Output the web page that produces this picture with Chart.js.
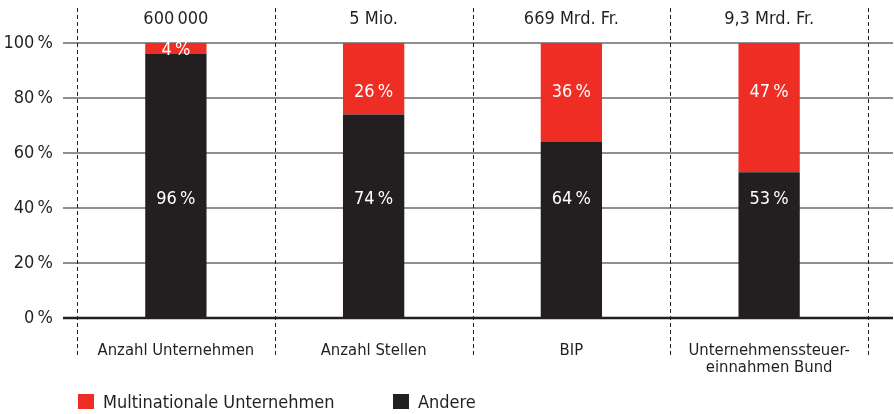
<!DOCTYPE html>
<html lang="de">
<head>
<meta charset="utf-8">
<script src="https://cdn.jsdelivr.net/npm/chart.js@4.4.1/dist/chart.umd.min.js"></script>
<style>
  html, body { margin: 0; padding: 0; background: #fff; }
  #wrap { position: relative; width: 894px; height: 414px; }
  .leg { position: absolute; top: 391px; height: 20px; display: flex; align-items: center;
         font: 18px 'DejaVu Sans Condensed', 'DejaVu Sans', sans-serif; color: #231F20; white-space: nowrap; }
  .leg i { display: inline-block; width: 16px; height: 15px; margin-right: 9px; }
</style>
</head>
<body>
<div id="wrap">
  <canvas id="chart" width="894" height="414"></canvas>
  <div class="leg" style="left:78px"><i style="background:#EE2E24"></i>Multinationale Unternehmen</div>
  <div class="leg" style="left:393px"><i style="background:#231F20"></i>Andere</div>
</div>
<script>
// Daten
const categories = ['Anzahl Unternehmen', 'Anzahl Stellen', 'BIP', ['Unternehmenssteuer-', 'einnahmen Bund']];
const totals = ['600\u2009000', '5 Mio.', '669 Mrd. Fr.', '9,3 Mrd. Fr.'];
const andere = [96, 74, 64, 53];
const multinationale = [4, 26, 36, 47];
const yTicks = [0, 20, 40, 60, 80, 100];

const RED = '#EE2E24';
const BLACK = '#231F20';
const FONT = "'DejaVu Sans Condensed', 'DejaVu Sans', sans-serif";
const pct = v => v + '\u2009%';

// Gitterlinien, gestrichelte Trenner und Beschriftungen
const decor = {
  id: 'decor',
  beforeDatasetsDraw(chart) {
    const { ctx, chartArea, scales: { x, y } } = chart;
    ctx.save();
    ctx.strokeStyle = '#6a6a6a';
    ctx.lineWidth = 1.5;
    yTicks.forEach(v => {
      if (v === 0) return;
      const py = Math.round(y.getPixelForValue(v));
      ctx.beginPath();
      ctx.moveTo(chartArea.left - 14, py);
      ctx.lineTo(chartArea.right + 25, py);
      ctx.stroke();
    });
    const half = (x.getPixelForValue(1) - x.getPixelForValue(0)) / 2;
    ctx.setLineDash([4, 3]);
    ctx.strokeStyle = BLACK;
    ctx.lineWidth = 1;
    for (let i = 0; i <= categories.length; i++) {
      const px = Math.round(x.getPixelForValue(0) - half + i * 2 * half) + 0.5;
      ctx.beginPath();
      ctx.moveTo(px, 8);
      ctx.lineTo(px, 357);
      ctx.stroke();
    }
    ctx.restore();
  },
  afterDatasetsDraw(chart) {
    const { ctx, chartArea, scales: { x, y } } = chart;
    ctx.save();
    // Grundlinie
    ctx.strokeStyle = BLACK;
    ctx.lineWidth = 2.5;
    ctx.beginPath();
    ctx.moveTo(chartArea.left - 14, y.getPixelForValue(0));
    ctx.lineTo(chartArea.right + 25, y.getPixelForValue(0));
    ctx.stroke();

    ctx.textAlign = 'center';
    ctx.textBaseline = 'middle';
    ctx.font = '18px ' + FONT;
    categories.forEach((c, i) => {
      const px = x.getPixelForValue(i);
      // Werte in den Balken
      ctx.fillStyle = '#fff';
      ctx.fillText(pct(andere[i]), px, y.getPixelForValue(43));
      const top = y.getPixelForValue(100);
      const bottom = y.getPixelForValue(andere[i]);
      const my = bottom - top > 40 ? y.getPixelForValue(82) : (top + bottom) / 2 + 2;
      ctx.fillText(pct(multinationale[i]), px, my);
      // Totale oben
      ctx.fillStyle = BLACK;
      ctx.fillText(totals[i], px, 19);
    });
    ctx.restore();
  }
};

new Chart(document.getElementById('chart').getContext('2d'), {
  type: 'bar',
  data: {
    labels: categories,
    datasets: [
      { label: 'Andere', data: andere, backgroundColor: BLACK },
      { label: 'Multinationale Unternehmen', data: multinationale, backgroundColor: RED }
    ]
  },
  options: {
    responsive: false,
    animation: false,
    layout: { padding: { top: 43, right: 26, bottom: 0, left: 0 } },
    plugins: { legend: { display: false }, tooltip: { enabled: false } },
    datasets: { bar: { barPercentage: 0.31, categoryPercentage: 1 } },
    scales: {
      x: {
        stacked: true,
        grid: { display: false, drawTicks: false },
        border: { display: false },
        ticks: { color: BLACK, padding: 24, font: { family: FONT, size: 16.5, lineHeight: 1.03 }, maxRotation: 0 },
        afterFit: s => { s.height = 96; }
      },
      y: {
        stacked: true,
        min: 0,
        max: 100,
        grid: { display: false, drawTicks: false },
        border: { display: false },
        ticks: { stepSize: 20, color: BLACK, padding: 24, font: { family: FONT, size: 18 }, callback: v => pct(v) },
        afterFit: s => { s.width = 77; }
      }
    }
  },
  plugins: [decor]
});
</script>
</body>
</html>
